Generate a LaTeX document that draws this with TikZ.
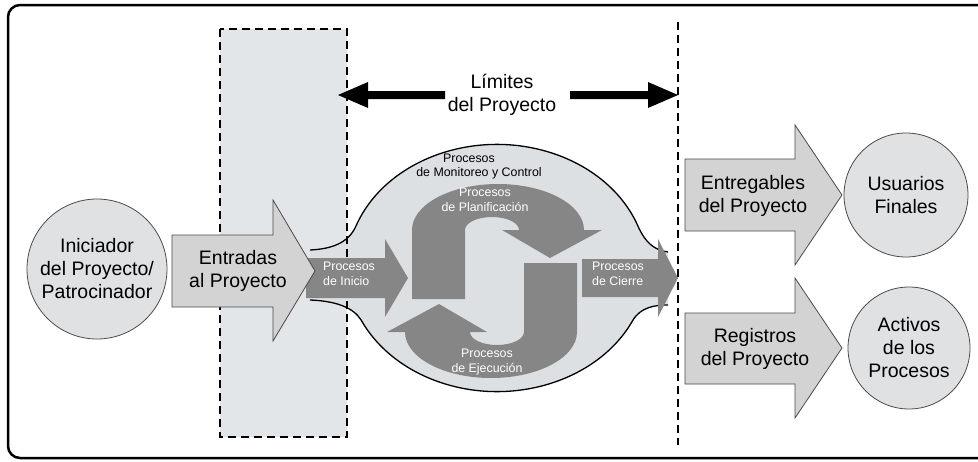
\documentclass[tikz,border=0pt]{standalone}
\usepackage{fontspec}
\setmainfont{Liberation Sans}
\definecolor{bandfill}{HTML}{E3E6E8}
\definecolor{blobfill}{HTML}{DDE0E2}
\definecolor{cycgray}{HTML}{868686}
\definecolor{arrowlight}{HTML}{D3D3D3}
\definecolor{circfill}{HTML}{E0E1E3}
\definecolor{edgegray}{HTML}{4A4A4A}
\tikzset{
  bigtxt/.style={font=\fontsize{19.5}{23}\selectfont, align=center, inner sep=0pt},
  smtxt/.style={font=\fontsize{12.4}{15}\selectfont, align=center, inner sep=0pt},
  wtxt/.style={smtxt, text=white},
  lightarrow/.style={fill=arrowlight, draw=edgegray, line width=0.8pt},
  bubble/.style={circle, fill=circfill, draw=edgegray, line width=0.8pt, minimum size=#1, inner sep=0pt, align=center, font=\fontsize{19.5}{23}\selectfont},
  dashline/.style={dash pattern=on 8pt off 5pt, line width=1.2pt},
  blobline/.style={line width=1.3pt, black},
}
\begin{document}
\begin{tikzpicture}[x=1pt,y=-1pt]
\useasboundingbox (0,0) rectangle (978,461);
\clip (0,0) rectangle (978,461);
% outer frame
\draw[line width=2.5pt, rounded corners=12pt] (8,5) rectangle (1000,458);
% band fill
\fill[bandfill] (220,29) rectangle (347,437);
% blob
\path[fill=blobfill] (310,250) .. controls (330,249) and (348,244) .. (356,226)
  arc[start angle=-160,end angle=-20,x radius=150,y radius=124]
  .. controls (646,244) and (655,250) .. (668,252) -- (668,305)
  .. controls (655,305) and (641,307) .. (633,320)
  arc[start angle=25,end angle=155,x radius=150,y radius=124]
  .. controls (353,307) and (335,301) .. (310,300) -- cycle;
\draw[blobline] (310,250) .. controls (330,249) and (348,244) .. (356,226)
  arc[start angle=-160,end angle=-20,x radius=150,y radius=124]
  .. controls (646,244) and (655,250) .. (668,252);
\draw[blobline] (668,305) .. controls (655,305) and (641,307) .. (633,320)
  arc[start angle=25,end angle=155,x radius=150,y radius=124]
  .. controls (353,307) and (335,301) .. (310,300);
% band border and right boundary
\draw[dashline] (220,29) rectangle (347,437);
\draw[dashline] (678,22) -- (678,445);
% Inicio and Cierre arrows
\fill[cycgray] (306,258) -- (385,258) -- (385,239) -- (408,278) -- (385,317) -- (385,298) -- (306,298) -- cycle;
\fill[cycgray] (582,259) -- (658,259) -- (658,239) -- (678,278) -- (658,317) -- (658,297) -- (582,297) -- cycle;
% planning arrow
\fill[cycgray] (412,299) -- (412,230) arc[start angle=180,end angle=360,x radius=86,y radius=46]
  -- (602,230) -- (550,258) -- (502,230) -- (519,230)
  arc[start angle=360,end angle=180,x radius=27,y radius=13] -- (465,299) -- cycle;
% execution arrow (point symmetric)
\begin{scope}[rotate around={180:(494.5,281)}]
\fill[cycgray] (412,299) -- (412,230) arc[start angle=180,end angle=360,x radius=86,y radius=46]
  -- (602,230) -- (550,258) -- (502,230) -- (519,230)
  arc[start angle=360,end angle=180,x radius=27,y radius=13] -- (465,299) -- cycle;
\end{scope}
% light arrows
\draw[lightarrow] (172,235) -- (273,235) -- (273,200) -- (315,271) -- (273,341) -- (273,307) -- (172,307) -- cycle;
\draw[lightarrow] (685,159) -- (795,159) -- (795,125) -- (842,195) -- (795,265) -- (795,231) -- (685,231) -- cycle;
\draw[lightarrow] (685,313) -- (795,313) -- (795,278) -- (842,348) -- (795,418) -- (795,384) -- (685,384) -- cycle;
% Limites arrows
\fill (338,95) -- (368,82) -- (368,91) -- (445,91) -- (445,99) -- (368,99) -- (368,108) -- cycle;
\fill (678,95) -- (648,82) -- (648,91) -- (570,91) -- (570,99) -- (648,99) -- (648,108) -- cycle;
% circles
\node[bubble=140pt] (inic) at (97,269) {Iniciador\\del Proyecto/\\Patrocinador};
\node[bubble=124pt] (usu) at (906,195) {Usuarios\\Finales};
\node[bubble=122pt] (act) at (909,348) {Activos\\de los\\Procesos};
% texts
\node[bigtxt] (lim) at (502,95) {Límites\\del Proyecto};
\node[bigtxt] (entr) at (238,271) {Entradas\\al Proyecto};
\node[bigtxt] (entg) at (753,196) {Entregables\\del Proyecto};
\node[bigtxt] (reg) at (755,349) {Registros\\del Proyecto};
\node[smtxt] (mon1) at (469,158) {Procesos};
\node[smtxt] (mon2) at (479,173) {de Monitoreo y Control};
\node[wtxt] (plan) at (485,200) {Procesos\\de Planificación};
\node[wtxt] (ejec) at (487,362) {Procesos\\de Ejecución};
\node[wtxt, align=left, anchor=west] (pini) at (323,274) {Procesos\\de Inicio};
\node[wtxt, align=left, anchor=west] (pcie) at (592,274) {Procesos\\de Cierre};
\end{tikzpicture}
\end{document}
